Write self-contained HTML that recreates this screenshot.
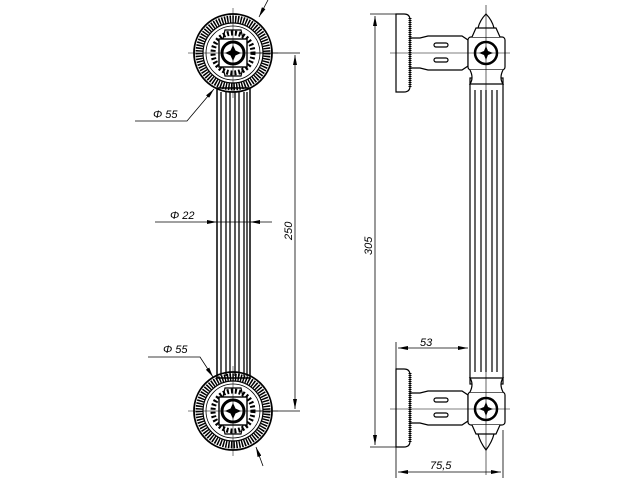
<!DOCTYPE html>
<html><head><style>html,body{margin:0;padding:0;background:#fff}svg{display:block}</style></head>
<body>
<svg width="640" height="480" viewBox="0 0 640 480" xmlns="http://www.w3.org/2000/svg" font-family="Liberation Sans, sans-serif" font-style="italic">
<defs>
<marker id="a" viewBox="0 0 10 4" refX="10" refY="2" markerWidth="10" markerHeight="4" orient="auto-start-reverse" markerUnits="userSpaceOnUse"><path d="M0,0L10,2L0,4z" fill="#000"/></marker>
<g id="ros">
<circle r="39" fill="none" stroke="#000" stroke-width="1.8"/>
<circle r="34" fill="none" stroke="#000" stroke-width="7" stroke-dasharray="1.5 1.2"/>
<circle r="30" fill="none" stroke="#000" stroke-width="1.2"/>
<circle r="27" fill="none" stroke="#000" stroke-width="0.8"/>
<circle r="20" fill="none" stroke="#000" stroke-width="5" stroke-dasharray="2 2"/>
<rect x="-14" y="-14" width="28" height="28" fill="#fff" stroke="#000" stroke-width="1.4"/>
<path d="M-10,-14 L-8,-23 L8,-23 L10,-14 M-10,14 L-8,23 L8,23 L10,14" fill="none" stroke="#000" stroke-width="1.2"/>
<circle r="11" fill="none" stroke="#000" stroke-width="3"/>
<path d="M0,-8 L2.5,-2.5 L8,0 L2.5,2.5 L0,8 L-2.5,2.5 L-8,0 L-2.5,-2.5z" fill="#000"/>
<path d="M-45,0H45M0,-45V45" stroke="#000" stroke-width="0.5"/>
</g>
</defs>
<g stroke="#000" fill="none">
<rect x="217" y="88" width="33" height="290" stroke-width="1.5"/>
<path d="M221,92V376M226,92V376M230,92V376M235,92V376M239,92V376M244,92V376M247,92V376" stroke-width="1.3"/>
</g>
<use href="#ros" x="233" y="53"/>
<use href="#ros" x="233" y="411"/>
<g stroke="#000" stroke-width="0.8" fill="none">
<path d="M250,53H300M250,411H300"/>
<path d="M295,55V409" marker-start="url(#a)" marker-end="url(#a)"/>
<path d="M135,121H187L214,89" marker-end="url(#a)"/>
<path d="M268,0L259,17" marker-end="url(#a)"/>
<path d="M155,222H217" marker-end="url(#a)"/>
<path d="M272,222H250" marker-end="url(#a)"/>
<path d="M217,222H250"/>
<path d="M148,357H200L213,377" marker-end="url(#a)"/>
<path d="M263,466L256,447" marker-end="url(#a)"/>
</g>
<g font-size="11" fill="#000">
<text x="153" y="118">Φ 55</text>
<text x="170" y="219">Φ 22</text>
<text x="163" y="353">Φ 55</text>
<text transform="translate(292,240) rotate(-90)">250</text>
<text transform="translate(372,255) rotate(-90)">305</text>
<text x="420" y="346">53</text>
<text x="430" y="469">75,5</text>
</g>
<g stroke="#000" fill="#fff" stroke-width="1.2">
<path d="M396,14H404Q410,14 410,20V86Q410,92 404,92H396z"/>
<path d="M396,369H404Q410,369 410,375V441Q410,447 404,447H396z"/>
<path d="M410,38H420L428,36H462L468,40V66L462,70H428L420,68H410z"/>
<path d="M410,393H420L428,391H462L468,395V421L462,425H428L420,423H410z"/>
<rect x="470" y="78" width="33" height="306"/>
<rect x="468" y="37" width="37" height="33" rx="3"/>
<rect x="468" y="392" width="37" height="33" rx="3"/>
<path d="M472,37L476,28H496L500,37M478,28Q480,20 486,14Q492,20 494,28"/>
<path d="M472,425L476,434H496L500,425M478,434Q480,442 486,450Q492,442 494,434"/>
<path d="M470,70Q474,78 470,84H503Q499,78 503,70M470,392Q474,384 470,378H503Q499,384 503,392"/>
</g>
<g stroke="#000" fill="none" stroke-width="1.2">
<path d="M475,90V372M481,90V372M486,90V372M492,90V372M497,90V372"/>
<rect x="434" y="43" width="14" height="4" rx="2"/><rect x="434" y="58" width="14" height="4" rx="2"/>
<rect x="434" y="398" width="14" height="4" rx="2"/><rect x="434" y="413" width="14" height="4" rx="2"/>
<path d="M410,18V88M410,373V443" stroke-width="3" stroke-dasharray="1 1"/>
<circle cx="486" cy="53" r="11" stroke-width="2.5"/><circle cx="486" cy="409" r="11" stroke-width="2.5"/>
</g>
<path d="M486,46L488,51L493,53L488,55L486,60L484,55L479,53L484,51z M486,402L488,407L493,409L488,411L486,416L484,411L479,409L484,407z" fill="#000"/>
<g stroke="#000" stroke-width="0.6" fill="none">
<path d="M390,53H510M390,409H510M486,5V475"/>
</g>
<g stroke="#000" stroke-width="0.8" fill="none">
<path d="M370,14H400M370,447H400"/>
<path d="M375,16V445" marker-start="url(#a)" marker-end="url(#a)"/>
<path d="M396,342V369M396,447V478M503,430V478"/>
<path d="M398,348H468" marker-start="url(#a)" marker-end="url(#a)"/>
<path d="M398,472H501" marker-start="url(#a)" marker-end="url(#a)"/>
</g>
</svg>
</body></html>
